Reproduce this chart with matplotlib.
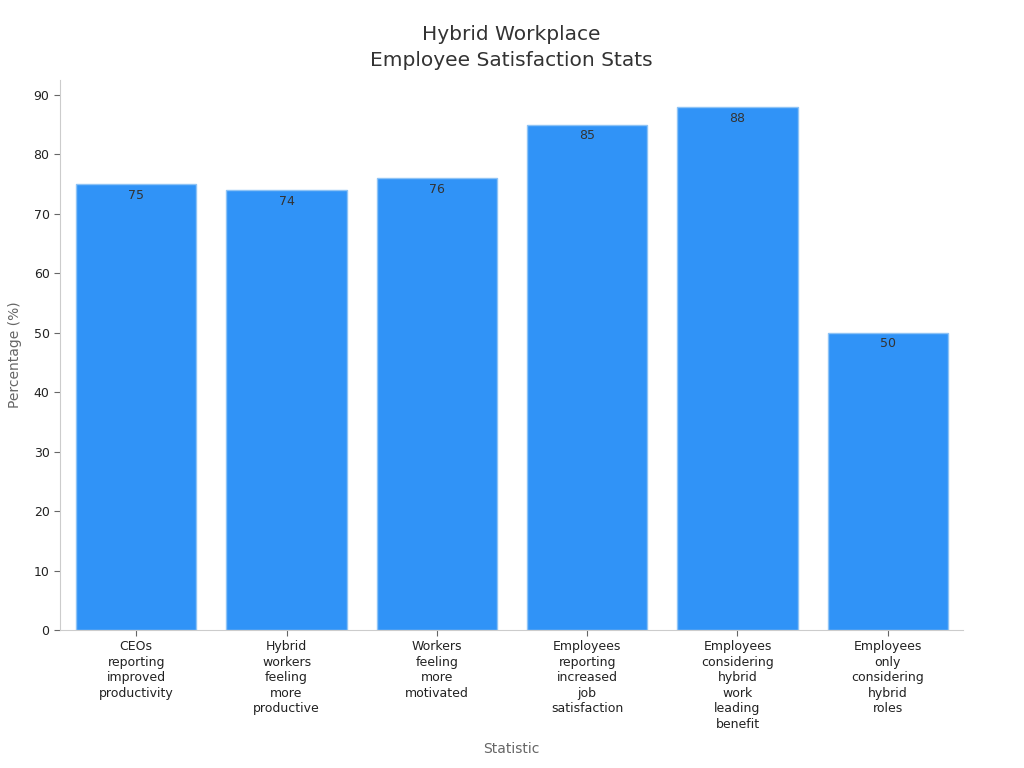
import matplotlib.pyplot as plt

# Data
categories = [
    "CEOs\nreporting\nimproved\nproductivity",
    "Hybrid\nworkers\nfeeling\nmore\nproductive",
    "Workers\nfeeling\nmore\nmotivated",
    "Employees\nreporting\nincreased\njob\nsatisfaction",
    "Employees\nconsidering\nhybrid\nwork\nleading\nbenefit",
    "Employees\nonly\nconsidering\nhybrid\nroles",
]
values = [75, 74, 76, 85, 88, 50]
y_ticks = [0, 10, 20, 30, 40, 50, 60, 70, 80, 90]

fig = plt.figure(figsize=(10.24, 7.68), dpi=100)
ax = fig.add_axes([0.0586, 0.1797, 0.8818, 0.7161])

x = list(range(len(categories)))
bars = ax.bar(x, values, width=0.8, color='#3093F7', edgecolor='#8EC3F5', linewidth=1)

for xi, v in zip(x, values):
    ax.text(xi, v - 0.8, str(v), ha='center', va='top', fontsize=9, color='#333333')

ax.set_xlim(-0.507, 5.5)
ax.set_ylim(0, 92.5)
ax.set_yticks(y_ticks)
ax.set_xticks(x)
ax.set_xticklabels(categories, fontsize=9, color='#222222', linespacing=1.25)
ax.tick_params(axis='y', labelsize=9, labelcolor='#222222', color='#666666', length=4)
ax.tick_params(axis='x', color='#666666', length=4)

for side in ['top', 'right']:
    ax.spines[side].set_visible(False)
for side in ['left', 'bottom']:
    ax.spines[side].set_color('#cccccc')

ax.set_xlabel('Statistic', fontsize=10, color='#666666', labelpad=8)
ax.set_ylabel('Percentage (%)', fontsize=10, color='#666666', labelpad=8)
ax.set_title('Hybrid Workplace\nEmployee Satisfaction Stats', fontsize=14.5, color='#333333',
             pad=10, linespacing=1.45)

plt.savefig('out.png', dpi=100)
